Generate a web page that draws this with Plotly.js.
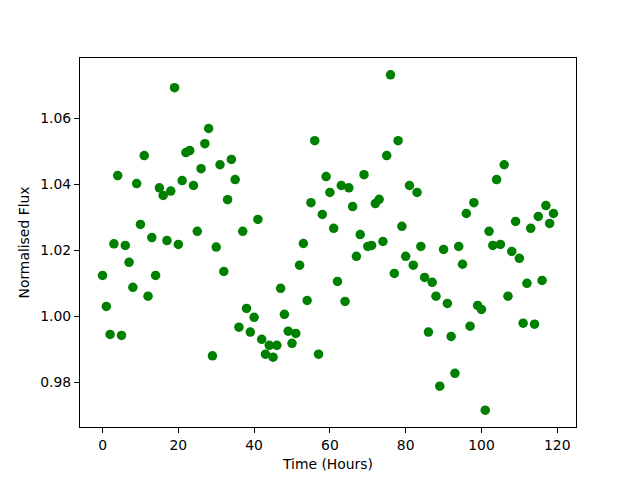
<!DOCTYPE html>
<html>
<head>
<meta charset="utf-8">
<script src="https://cdn.plot.ly/plotly-3.0.1.min.js"></script>
<style>html,body{margin:0;padding:0;background:#fff;}#chart{width:640px;height:480px;}</style>
</head>
<body>
<div id="chart"></div>
<script>
const timeHours = [];
for (let i = 0; i < 120; i++) timeHours.push(i);

const normalisedFlux = [
  1.0124, 1.0030, 0.9945, 1.0220, 1.0427, 0.9942, 1.0215, 1.0164, 1.0088, 1.0403,
  1.0279, 1.0488, 1.0061, 1.0239, 1.0124, 1.0390, 1.0367, 1.0230, 1.0380, 1.0694,
  1.0218, 1.0412, 1.0497, 1.0503, 1.0397, 1.0258, 1.0448, 1.0524, 1.0570, 0.9880,
  1.0210, 1.0460, 1.0136, 1.0354, 1.0476, 1.0415, 0.9967, 1.0258, 1.0024, 0.9952,
  0.9997, 1.0294, 0.9930, 0.9885, 0.9912, 0.9876, 0.9912, 1.0085, 1.0006, 0.9955,
  0.9918, 0.9948, 1.0155, 1.0221, 1.0048, 1.0345, 1.0533, 0.9885, 1.0309, 1.0424,
  1.0376, 1.0267, 1.0106, 1.0397, 1.0045, 1.0390, 1.0333, 1.0182, 1.0248, 1.0430,
  1.0212, 1.0215, 1.0342, 1.0355, 1.0227, 1.0488, 1.0733, 1.0130, 1.0533, 1.0273,
  1.0182, 1.0397, 1.0155, 1.0376, 1.0212, 1.0118, 0.9952, 1.0103, 1.0061, 0.9788,
  1.0203, 1.0039, 0.9939, 0.9827, 1.0212, 1.0158, 1.0312, 0.9970, 1.0345, 1.0033,
  1.0021, 0.9715, 1.0258, 1.0215, 1.0415, 1.0218, 1.0460, 1.0061, 1.0197, 1.0288,
  1.0176, 0.9979, 1.0100, 1.0267, 0.9976, 1.0303, 1.0109, 1.0336, 1.0282, 1.0312
];

const xTickVals = [0, 20, 40, 60, 80, 100, 120];
const yTickVals = [0.98, 1.00, 1.02, 1.04, 1.06];
const yTickText = ['0.98', '1.00', '1.02', '1.04', '1.06'];

const trace = {
  x: timeHours,
  y: normalisedFlux,
  mode: 'markers',
  type: 'scatter',
  marker: {color: '#008000', size: 9.5, line: {width: 0}},
  hoverinfo: 'skip'
};

const fontFam = 'DejaVu Sans, sans-serif';
const fs = 13.9;
const layout = {
  width: 640, height: 480,
  margin: {l: 80, r: 64, t: 58, b: 53, pad: 0},
  paper_bgcolor: '#ffffff', plot_bgcolor: '#ffffff',
  showlegend: false,
  font: {family: fontFam, size: fs, color: '#000'},
  xaxis: {
    range: [-5.95, 124.95],
    tickmode: 'array', tickvals: xTickVals,
    ticks: 'outside', ticklen: 5, tickwidth: 1, tickcolor: '#000',
    showline: true, linecolor: '#000', linewidth: 1, mirror: true,
    showgrid: false, zeroline: false,
    tickfont: {family: fontFam, size: fs, color: '#000'},
    title: {text: 'Time (Hours)', font: {family: fontFam, size: fs, color: '#000'}, standoff: 7}
  },
  yaxis: {
    range: [0.9664, 1.0784],
    tickmode: 'array', tickvals: yTickVals, ticktext: yTickText,
    ticks: 'outside', ticklen: 5, tickwidth: 1, tickcolor: '#000',
    showline: true, linecolor: '#000', linewidth: 1, mirror: true,
    showgrid: false, zeroline: false,
    tickfont: {family: fontFam, size: fs, color: '#000'},
    title: {text: 'Normalised Flux', font: {family: fontFam, size: fs, color: '#000'}, standoff: 7}
  }
};

Plotly.newPlot('chart', [trace], layout, {staticPlot: true, displayModeBar: false});
</script>
</body>
</html>
